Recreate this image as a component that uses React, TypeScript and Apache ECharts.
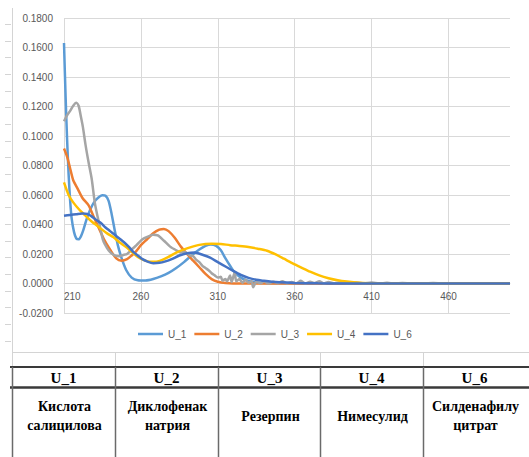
import React, { useEffect, useRef } from "react";
import * as echarts from "echarts";

// ---- data ----
const seriesNames = ["U_1", "U_2", "U_3", "U_4", "U_6"];
const seriesColors = ["#5B9BD5", "#ED7D31", "#A5A5A5", "#FFC000", "#4472C4"];

const wlU1 = [210, 211, 212, 213, 214, 215, 216.5, 218, 219.5, 221, 222.5, 224.5, 227, 229.5, 232, 235, 237, 239, 241, 243, 245, 247.5, 250.5, 254, 258, 263, 268, 273, 278, 283, 288, 293, 298, 302, 305.5, 309, 312, 315, 318, 321, 325, 329, 334, 340, 350, 400, 500];
const valU1 = [0.163, 0.128, 0.098, 0.074, 0.056, 0.044, 0.035, 0.0305, 0.030, 0.032, 0.036, 0.043, 0.050, 0.055, 0.058, 0.0598, 0.0595, 0.056, 0.047, 0.036, 0.026, 0.017, 0.009, 0.004, 0.0022, 0.002, 0.003, 0.0048, 0.0072, 0.0105, 0.0145, 0.019, 0.023, 0.0255, 0.0265, 0.0255, 0.0225, 0.017, 0.012, 0.0075, 0.004, 0.002, 0.0008, 0.0003, 0.0001, 0, 0];

const wlU2 = [210, 212, 214, 216, 219, 222, 226, 229, 232, 236, 240, 244, 247.5, 251, 254, 257, 260, 264, 268, 272, 275, 278, 282, 286, 290, 294, 298, 302, 306, 310, 315, 325, 400, 500];
const valU2 = [0.0915, 0.086, 0.078, 0.070, 0.064, 0.058, 0.053, 0.046, 0.039, 0.030, 0.023, 0.017, 0.0155, 0.0165, 0.019, 0.022, 0.026, 0.030, 0.034, 0.0365, 0.037, 0.0355, 0.031, 0.025, 0.020, 0.0155, 0.011, 0.0065, 0.003, 0.0012, 0.0004, 0, 0, 0];

const wlU3 = [210, 212, 214, 216, 218, 219.5, 221, 222.3, 224, 226, 228, 230, 231.5, 233.5, 235.5, 238, 240, 243, 246, 249, 251, 254, 257, 261, 264.5, 268, 271, 275, 279, 283, 286, 288, 290, 292, 294, 296, 298, 300, 302, 304, 306, 308, 310, 312, 313, 315, 316, 318, 319, 321, 322, 324, 326, 328, 330, 332, 333, 335, 338, 340, 343, 346, 349, 352, 355, 358, 361, 364, 367, 370, 373, 376, 379, 382, 386, 390, 395, 400, 405, 410, 415, 420, 425, 430, 440, 450, 460, 500];
const valU3 = [0.110, 0.114, 0.117, 0.1205, 0.1225, 0.1205, 0.113, 0.106, 0.094, 0.082, 0.071, 0.055, 0.047, 0.038, 0.029, 0.024, 0.0213, 0.019, 0.0185, 0.0195, 0.020, 0.023, 0.0258, 0.030, 0.0318, 0.033, 0.0326, 0.029, 0.025, 0.0225, 0.021, 0.0215, 0.0205, 0.019, 0.0185, 0.016, 0.0145, 0.012, 0.0105, 0.009, 0.007, 0.0055, 0.004, 0.0045, 0.002, 0.003, 0.0015, 0.0055, 0.001, 0.0077, 0.0015, 0.003, 0.0005, 0.0025, 0.0005, 0.0015, -0.0025, 0.001, 0.0002, 0.0015, 0, 0.0012, 0.0002, 0.0016, 0, 0.001, 0.0002, 0.0018, 0, 0.0012, 0.0003, 0.0015, 0, 0.001, 0.0002, 0.0008, 0, 0.0006, 0, 0.0006, 0, 0.0005, 0, 0.0004, 0, 0.0003, 0, 0];

const wlU4 = [210, 213, 216, 220, 224, 228, 233, 238, 242, 246, 250, 254, 258, 262, 266, 270, 274, 278, 283, 290, 298, 306, 312, 318, 324, 330, 336, 342, 348, 353, 358, 364, 370, 376, 382, 388, 394, 400, 408, 420, 500];
const valU4 = [0.0685, 0.060, 0.055, 0.050, 0.046, 0.042, 0.038, 0.034, 0.0315, 0.028, 0.025, 0.0215, 0.018, 0.0158, 0.0147, 0.0148, 0.016, 0.018, 0.021, 0.0238, 0.0262, 0.027, 0.0268, 0.026, 0.0255, 0.0248, 0.0236, 0.0222, 0.0195, 0.0168, 0.014, 0.011, 0.008, 0.0055, 0.0036, 0.0022, 0.0013, 0.0007, 0.0002, 0, 0];

const wlU6 = [210, 214, 218, 222, 225, 228, 231, 234, 237, 240, 243, 246, 249, 252, 255, 258, 261, 264, 268, 272, 276, 280, 285, 290, 295, 300, 305, 310, 315, 320, 325, 330, 335, 340, 345, 350, 360, 375, 390, 500];
const valU6 = [0.046, 0.0465, 0.047, 0.0475, 0.0472, 0.0455, 0.043, 0.041, 0.038, 0.0355, 0.033, 0.0305, 0.028, 0.025, 0.0215, 0.019, 0.0165, 0.015, 0.0138, 0.014, 0.015, 0.0165, 0.019, 0.0205, 0.021, 0.0195, 0.0175, 0.0145, 0.0115, 0.0085, 0.0058, 0.0038, 0.0025, 0.0018, 0.0012, 0.0008, 0.0004, 0.0001, 0, 0];

const wavelengths = [wlU1, wlU2, wlU3, wlU4, wlU6];
const values = [valU1, valU2, valU3, valU4, valU6];

const xMin = 210;
const xMax = 500;
const xStep = 50;
const yMin = -0.02;
const yMax = 0.18;
const yStep = 0.02;

// table under the chart
const tableHeaders = ["U_1", "U_2", "U_3", "U_4", "U_6"];
const tableNames = ["Кислота\nсалицилова", "Диклофенак\nнатрия", "Резерпин", "Нимесулид", "Силденафилу\nцитрат"];

export default function App() {
  const ref = useRef<HTMLDivElement>(null);

  useEffect(() => {
    if (!ref.current) return;
    const chart = echarts.init(ref.current, undefined, { renderer: "svg" });

    const gridTop = 18;
    const gridBottom = 144;
    const plotH = 457 - gridTop - gridBottom;
    // place the x axis where y = 0 (as the reference does)
    const zeroOffset = -((0 - yMin) / (yMax - yMin)) * plotH;

    const series = seriesNames.map((name, i) => ({
      name,
      type: "line",
      data: wavelengths[i].map((w, j) => [w, values[i][j]]),
      showSymbol: false,
      symbol: "none",
      smooth: 0.25,
      lineStyle: { width: 2.5, color: seriesColors[i] },
      itemStyle: { color: seriesColors[i] },
      z: 2 + i,
    }));

    const colX = [12, 115, 218, 320, 423];
    const colW = 103;
    const graphics: any[] = [];
    const sheetGray = "#D4D4D4";
    // spreadsheet edge behind chart
    graphics.push({ type: "line", silent: true, shape: { x1: 12.5, y1: 8, x2: 12.5, y2: 367 }, style: { stroke: sheetGray, lineWidth: 1 } });
    graphics.push({ type: "line", silent: true, shape: { x1: 12, y1: 352.5, x2: 529, y2: 352.5 }, style: { stroke: sheetGray, lineWidth: 1 } });
    for (let k = 0; k < 20; k++) {
      const y = Math.round(24 + k * 16.67) + 0.5;
      graphics.push({ type: "line", silent: true, shape: { x1: 5, y1: y, x2: 11, y2: y }, style: { stroke: sheetGray, lineWidth: 1 } });
    }
    for (let c = 1; c < colX.length; c++) {
      graphics.push({ type: "line", silent: true, shape: { x1: colX[c] + 0.5, y1: 352, x2: colX[c] + 0.5, y2: 367 }, style: { stroke: sheetGray, lineWidth: 1 } });
    }
    // table lines
    graphics.push({ type: "line", silent: true, shape: { x1: 10, y1: 367, x2: 529, y2: 367 }, style: { stroke: "#3a3a3a", lineWidth: 2 } });
    graphics.push({ type: "line", silent: true, shape: { x1: 10, y1: 387.5, x2: 529, y2: 387.5 }, style: { stroke: "#3a3a3a", lineWidth: 2.5 } });
    for (let c = 0; c < colX.length; c++) {
      graphics.push({ type: "line", silent: true, shape: { x1: colX[c] + 0.5, y1: 367, x2: colX[c] + 0.5, y2: 457 }, style: { stroke: "#6a6a6a", lineWidth: 1.5 } });
    }
    tableHeaders.forEach((h, c) => {
      graphics.push({
        type: "text",
        silent: true,
        x: colX[c] + colW / 2,
        y: 378,
        style: { text: h, align: "center", verticalAlign: "middle", font: 'bold 15px "Liberation Serif"', fill: "#000" },
      });
    });
    tableNames.forEach((n, c) => {
      graphics.push({
        type: "text",
        silent: true,
        x: colX[c] + colW / 2 + 1,
        y: 416,
        style: { text: n, align: "center", verticalAlign: "middle", font: 'bold 14px "Liberation Serif"', lineHeight: 18.5, fill: "#000" },
      });
    });

    const gridColor = "#D9D9D9";
    chart.setOption({
      animation: false,
      backgroundColor: "#ffffff",
      textStyle: { fontFamily: '"Liberation Sans", Arial, sans-serif' },
      grid: { left: 64, right: 19, top: gridTop, bottom: gridBottom, containLabel: false },
      legend: {
        data: seriesNames,
        left: 138,
        top: 329,
        padding: 0,
        icon: "rect",
        itemWidth: 25,
        itemHeight: 2.5,
        itemGap: 8,
        itemTextGap: 2,
        textStyle: { fontSize: 10, color: "#595959" },
      },
      xAxis: [
        {
          type: "value",
          min: xMin,
          max: xMax,
          interval: xStep,
          position: "bottom",
          offset: zeroOffset,
          axisLine: { show: true, onZero: false, lineStyle: { color: gridColor, width: 1 } },
          axisTick: { show: false },
          axisLabel: { fontSize: 10, color: "#595959", margin: 8, showMaxLabel: false, alignMinLabel: "left" },
          splitLine: {
            show: true,
            lineStyle: { color: [gridColor, gridColor, gridColor, gridColor, gridColor, gridColor, "rgba(0,0,0,0)"], width: 1 },
          },
        },
      ],
      yAxis: {
        type: "value",
        min: yMin,
        max: yMax,
        interval: yStep,
        axisLine: { show: false },
        axisTick: { show: false },
        axisLabel: { fontSize: 10, color: "#595959", margin: 11, formatter: (v: number) => v.toFixed(4) },
        splitLine: { show: true, lineStyle: { color: gridColor, width: 1 } },
      },
      series,
      graphic: graphics,
    });

    return () => chart.dispose();
  }, []);

  return (
    <div
      ref={ref}
      style={{ position: "fixed", left: 0, top: 0, width: 529, height: 457, background: "#fff" }}
    />
  );
}
